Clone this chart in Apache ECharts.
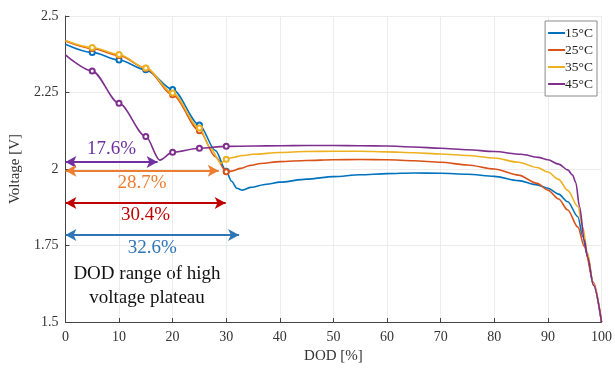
<!DOCTYPE html>
<html>
<head>
<meta charset="utf-8">
<script src="https://cdn.jsdelivr.net/npm/echarts@6/dist/echarts.min.js"></script>
<style>
  html, body { margin: 0; padding: 0; background: #fff; }
  #chart { width: 615px; height: 369px; }
</style>
</head>
<body>
<div id="chart"></div>
<script>
// discharge curves, DOD [%] vs voltage [V]
const dod15 = [0, 5, 10, 15, 20, 25, 28, 30, 31, 32, 33, 34.6, 37.5, 40, 45, 50, 55, 60, 65, 70, 75, 80, 84.5, 88, 90, 92, 93.7, 95.6, 96.5, 97.4, 98.5, 100];
const v15 = [2.408, 2.381, 2.356, 2.324, 2.26, 2.144, 2.06, 1.993, 1.96, 1.937, 1.931, 1.94, 1.95, 1.957, 1.967, 1.975, 1.981, 1.985, 1.987, 1.986, 1.983, 1.976, 1.962, 1.948, 1.937, 1.918, 1.893, 1.844, 1.779, 1.713, 1.62, 1.5];

const dod25 = [0, 5, 10, 15, 20, 25, 28, 30, 31, 32.7, 34.5, 36.4, 40, 45, 50, 55, 60, 65, 70, 75, 80, 84.5, 88, 90, 92, 93.7, 95.6, 96.8, 98.5, 100];
const v25 = [2.418, 2.394, 2.371, 2.329, 2.243, 2.125, 2.04, 1.991, 1.993, 2.002, 2.012, 2.018, 2.024, 2.028, 2.03, 2.031, 2.03, 2.027, 2.022, 2.013, 2.0, 1.98, 1.953, 1.931, 1.902, 1.866, 1.81, 1.746, 1.63, 1.5];

const dod35 = [0, 5, 10, 15, 20, 25, 27, 29, 30, 31, 33, 35, 40, 45, 50, 55, 60, 65, 70, 75, 80, 84.5, 88, 90, 92, 93.7, 95.6, 96.5, 97.4, 98.5, 100];
const v35 = [2.42, 2.397, 2.374, 2.33, 2.248, 2.134, 2.07, 2.019, 2.032, 2.037, 2.044, 2.048, 2.054, 2.057, 2.058, 2.058, 2.056, 2.053, 2.049, 2.044, 2.036, 2.022, 2.005, 1.99, 1.966, 1.93, 1.877, 1.81, 1.725, 1.62, 1.5];

const dod45 = [0, 5, 10, 15, 17.6, 20, 25, 30, 35, 40, 45, 50, 55, 60, 65, 70, 75, 80, 85, 88.2, 90, 92, 93.7, 94.6, 95.2, 95.9, 96.8, 97.4, 98.5, 100];
const v45 = [2.373, 2.32, 2.215, 2.106, 2.029, 2.055, 2.068, 2.074, 2.075, 2.076, 2.077, 2.077, 2.076, 2.075, 2.072, 2.068, 2.063, 2.057, 2.048, 2.038, 2.03, 2.016, 1.997, 1.98, 1.956, 1.877, 1.768, 1.713, 1.62, 1.5];

const seriesNames = ['15°C', '25°C', '35°C', '45°C'];
const seriesColors = ['#0072BD', '#D95319', '#EDB120', '#7E2F8E'];

// plateau range arrows
const arrowLabels = ['17.6%', '28.7%', '30.4%', '32.6%'];
const arrowEnds = [17.2, 28.6, 29.9, 32.4];
const arrowLevels = [2.023, 1.994, 1.889, 1.784];
const arrowColors = ['#7030A0', '#ED7D31', '#C00000', '#2E75B6'];
const arrowLabelPos = ['insideMiddleTop', 'insideMiddleBottom', 'insideMiddleBottom', 'insideMiddleBottom'];

const font = '"Liberation Serif", "Times New Roman", serif';

function toData(xs, ys) {
  return xs.map((x, i) => {
    const marked = x > 0 && x <= 30 && x % 5 === 0;
    return { value: [x, ys[i]], symbol: marked ? 'emptyCircle' : 'none' };
  });
}

const curves = [[dod15, v15], [dod25, v25], [dod35, v35], [dod45, v45]];

const series = curves.map(([xs, ys], i) => ({
  name: seriesNames[i],
  type: 'line',
  data: toData(xs, ys),
  smooth: 0.3,
  smoothMonotone: 'x',
  showSymbol: true,
  symbolSize: 5,
  color: seriesColors[i],
  lineStyle: { width: 1.6, color: seriesColors[i] },
  itemStyle: { color: seriesColors[i], borderWidth: 1.2 },
  z: 3 + i
}));

series.push({
  type: 'line',
  data: [],
  silent: true,
  markLine: {
    silent: true,
    symbol: ['arrow', 'arrow'],
    symbolSize: [9, 11],
    animation: false,
    data: arrowLabels.map((lab, i) => [
      {
        coord: [0, arrowLevels[i]],
        name: lab,
        lineStyle: { color: arrowColors[i], width: 2.2, type: 'solid' },
        itemStyle: { color: arrowColors[i] },
        label: {
          show: true,
          position: arrowLabelPos[i],
          formatter: lab,
          color: arrowColors[i],
          fontFamily: font,
          fontSize: 19,
          distance: 3
        }
      },
      { coord: [arrowEnds[i], arrowLevels[i]] }
    ])
  }
});

const chart = echarts.init(document.getElementById('chart'));
chart.setOption({
  animation: false,
  backgroundColor: '#fff',
  textStyle: { fontFamily: font },
  grid: { left: 63, right: 11, top: 16, bottom: 47 },
  legend: {
    data: seriesNames,
    orient: 'vertical',
    right: 18,
    top: 21,
    icon: 'rect',
    itemWidth: 17,
    itemHeight: 2,
    itemGap: 3,
    padding: [5, 4, 5, 3],
    borderColor: '#8c8c8c',
    borderWidth: 1,
    backgroundColor: '#fff',
    textStyle: { fontFamily: font, fontSize: 13.5, color: '#222', padding: [0, 0, 0, -5] }
  },
  xAxis: {
    type: 'value',
    min: 0,
    max: 100,
    interval: 10,
    name: 'DOD [%]',
    nameLocation: 'middle',
    nameGap: 24,
    nameTextStyle: { fontFamily: font, fontSize: 15, color: '#333' },
    axisLine: { onZero: false, lineStyle: { color: '#444', width: 1 } },
    axisTick: { inside: true, length: 4, lineStyle: { color: '#444' } },
    axisLabel: { fontFamily: font, fontSize: 14, color: '#333', margin: 8 },
    splitLine: { show: true, lineStyle: { color: '#ececec' } }
  },
  yAxis: {
    type: 'value',
    min: 1.5,
    max: 2.5,
    interval: 0.25,
    name: 'Voltage [V]',
    nameLocation: 'middle',
    nameGap: 36,
    nameTextStyle: { fontFamily: font, fontSize: 15, color: '#333' },
    axisLine: { show: true, onZero: false, lineStyle: { color: '#444', width: 1 } },
    axisTick: { show: true, inside: true, length: 4, lineStyle: { color: '#444' } },
    axisLabel: { fontFamily: font, fontSize: 14, color: '#333', margin: 7 },
    splitLine: { show: true, lineStyle: { color: '#ececec' } }
  },
  graphic: [{
    type: 'text',
    x: 147,
    y: 262,
    style: {
      text: 'DOD range of high\nvoltage plateau',
      font: '19px "Liberation Serif", serif',
      fill: '#111',
      align: 'center',
      verticalAlign: 'top',
      lineHeight: 24
    }
  }],
  series: series
});
</script>
</body>
</html>
